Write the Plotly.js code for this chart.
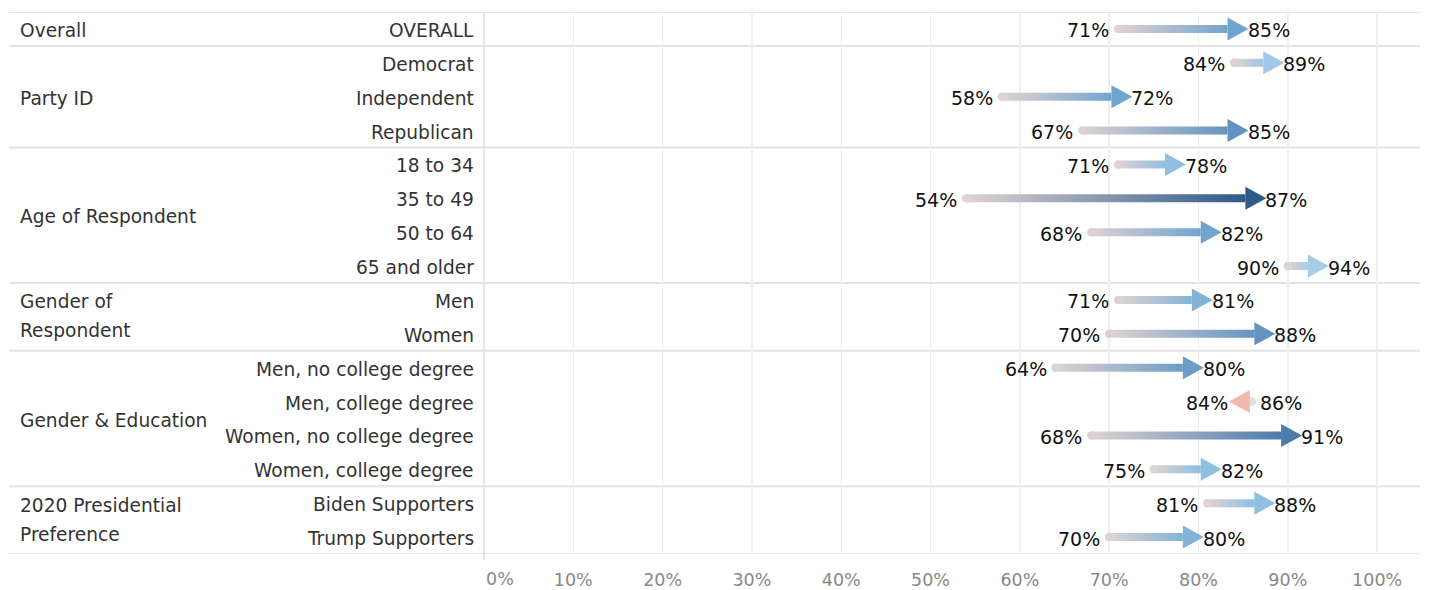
<!DOCTYPE html>
<html>
<head>
<meta charset="utf-8">
<script src="https://cdn.plot.ly/plotly-3.0.1.min.js"></script>
<style>html,body{margin:0;padding:0;background:#fff;}#chart{width:1429px;height:590px;}</style>
</head>
<body>
<div id="chart"></div>
<script>
// ---- data ----
const rowLabels = ['OVERALL','Democrat','Independent','Republican','18 to 34','35 to 49','50 to 64','65 and older','Men','Women','Men, no college degree','Men, college degree','Women, no college degree','Women, college degree','Biden Supporters','Trump Supporters'];
const startVals = [71,84,58,67,71,54,68,90,71,70,64,86,68,75,81,70];
const endVals   = [85,89,72,85,78,87,82,94,81,88,80,84,91,82,88,80];
const groupNames = ['Overall','Party ID','Age of Respondent','Gender of\nRespondent','Gender & Education','2020 Presidential\nPreference'];
const groupSizes = [1,3,4,2,4,2];
const tickValues = [0,10,20,30,40,50,60,70,80,90,100];
const tickLabels = ['0%','10%','20%','30%','40%','50%','60%','70%','80%','90%','100%'];

// ---- style ----
const FONT = 'DejaVu Sans';
const L = 484, W = 936, R = 9, T = 12, B = 36;
const XMAX = 104.8;
const headLen = 2.35, headHalf = 0.34, shaftHalf = 0.118, tipOff = 0.6;
const tailColor = '#ded2d2', tailColorNeg = '#e2e0e0';
const blueStops = [[4,[166,205,231]],[7,[143,191,225]],[14,[114,165,205]],[18,[99,148,192]],[23,[75,124,172]],[33,[45,90,137]]];
function hex(c){return '#'+c.map(v=>Math.round(v).toString(16).padStart(2,'0')).join('');}
function colorFor(d){
  if (d < 0) return '#f2b9ae';
  if (d <= blueStops[0][0]) return hex(blueStops[0][1]);
  for (let i=1;i<blueStops.length;i++){
    if (d <= blueStops[i][0]){
      const a=blueStops[i-1], b=blueStops[i], t=(d-a[0])/(b[0]-a[0]);
      return hex(a[1].map((v,k)=>v+(b[1][k]-v)*t));
    }
  }
  return hex(blueStops[blueStops.length-1][1]);
}
const px = p => (p - L) / W;
const TY = -1.5; // small downward nudge for texts

const shafts = [], tails = [], heads = [], annotations = [], shapes = [];
rowLabels.forEach((lab, r) => {
  const s = startVals[r], e = endVals[r], up = e >= s;
  const col = colorFor(e - s);
  const tcol = up ? tailColor : tailColorNeg;
  const tip = up ? e + tipOff : e - tipOff;
  const base = up ? tip - headLen : tip + headLen;
  if ((up && base > s) || (!up && base < s)) {
    const x0 = Math.min(s, base), x1 = Math.max(s, base);
    shafts.push({type:'scatter', mode:'lines', x:[x0,x1,x1,x0,x0], y:[r-shaftHalf,r-shaftHalf,r+shaftHalf,r+shaftHalf,r-shaftHalf],
      fill:'toself', fillcolor:col, line:{width:0, color:'rgba(0,0,0,0)'},
      fillgradient:{type:'horizontal', colorscale: up ? [[0,tcol],[1,col]] : [[0,col],[1,tcol]], start:x0, stop:x1},
      hoverinfo:'skip', showlegend:false});
  }
  tails.push({type:'scatter', mode:'markers', x:[s], y:[r], marker:{symbol:'circle', size:8.5, color:tcol, line:{width:0}}, hoverinfo:'skip', showlegend:false});
  heads.push({type:'scatter', mode:'lines', x:[base,tip,base,base], y:[r-headHalf,r,r+headHalf,r-headHalf],
    fill:'toself', fillcolor:col, line:{width:0, color:'rgba(0,0,0,0)'}, hoverinfo:'skip', showlegend:false});
  // value labels
  const vf = {family:FONT, size:19, color:'#111'};
  annotations.push({x:s, y:r, xref:'x', yref:'y', text:s+'%', showarrow:false, font:vf,
    xanchor: up ? 'right' : 'left', xshift: up ? -7 : 6, yshift:TY});
  annotations.push({x:tip, y:r, xref:'x', yref:'y', text:e+'%', showarrow:false, font:vf,
    xanchor: up ? 'left' : 'right', xshift: up ? -3 : 1, yshift:TY});
  // row label
  annotations.push({x:px(476), y:r, xref:'paper', yref:'y', text:lab, showarrow:false,
    font:{family:FONT, size:18.6, color:'#333'}, xanchor:'right', yshift:TY});
});

// group labels & separators
let acc = 0;
const bounds = [-0.5];
groupNames.forEach((g, i) => {
  const center = acc + (groupSizes[i]-1)/2;
  const lines = g.split('\n');
  lines.forEach((ln, k) => {
    const off = lines.length === 1 ? TY : (k === 0 ? 15 : -14);
    annotations.push({x:px(18), y:center, xref:'paper', yref:'y', text:ln, showarrow:false,
      font:{family:FONT, size:18.6, color:'#333'}, xanchor:'left', yshift:off});
  });
  acc += groupSizes[i];
  bounds.push(acc - 0.5);
});
bounds.forEach(b => shapes.push({type:'line', xref:'paper', yref:'y', x0:px(9), x1:1, y0:b, y1:b, line:{color:'#e4e4e4', width:2}, layer:'below'}));
shapes.push({type:'line', xref:'paper', yref:'paper', x0:0, x1:0, y0:-0.012, y1:1, line:{color:'#e0e0e0', width:1.5}, layer:'below'});

// 0% tick label sits inside the pane
annotations.push({x:tickValues[0], y:0, xref:'x', yref:'paper', text:tickLabels[0], showarrow:false,
  font:{family:FONT, size:17.5, color:'#888'}, xanchor:'left', yanchor:'top', xshift:0, yshift:-13});

const layout = {
  width:1429, height:590,
  margin:{l:L, r:R, t:T, b:B, pad:0},
  paper_bgcolor:'#fff', plot_bgcolor:'#fff',
  showlegend:false,
  xaxis:{range:[0, XMAX], tickvals:tickValues.slice(1), ticktext:tickLabels.slice(1), showgrid:true, gridcolor:'#efefef', gridwidth:1.5,
    zeroline:false, showline:false, ticks:'outside', ticklen:10, tickcolor:'rgba(0,0,0,0)',
    tickfont:{family:FONT, size:17.5, color:'#888'}, fixedrange:true},
  yaxis:{range:[15.5,-0.5], showgrid:false, zeroline:false, showticklabels:false, ticks:'', fixedrange:true},
  shapes:shapes,
  annotations:annotations
};
Plotly.newPlot('chart', [...shafts, ...tails, ...heads], layout, {displayModeBar:false, staticPlot:true});
</script>
</body>
</html>
